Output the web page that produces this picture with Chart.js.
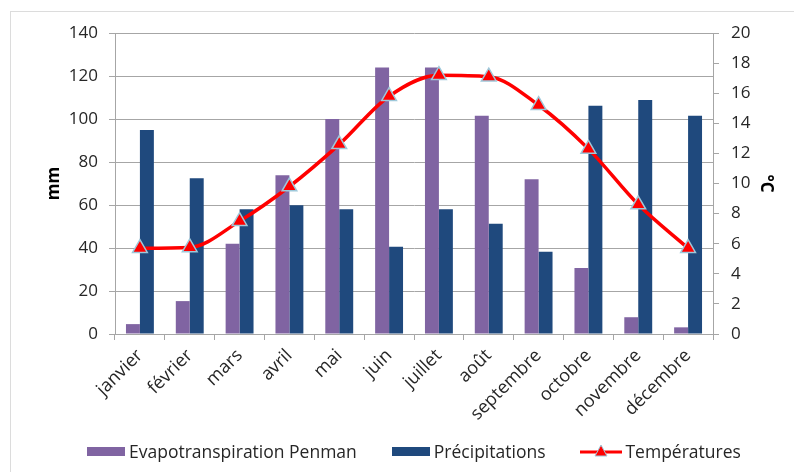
<!DOCTYPE html>
<html>
<head>
<meta charset="utf-8">
<script src="https://cdn.jsdelivr.net/npm/chart.js@4.4.0/dist/chart.umd.min.js"></script>
<style>
  body { margin: 0; background: #fff; }
  #wrap { position: relative; width: 794px; height: 472px; overflow: hidden; }
  #frame { position: absolute; left: 10px; top: 11px; width: 800px; height: 500px;
           border-left: 1px solid #dcdcdc; border-top: 1px solid #dcdcdc; }
  #myChart { position: absolute; left: 0; top: 0; }
  #legend { position: absolute; left: 87px; top: 439px; display: flex; align-items: center;
            font-family: "Open Sans", sans-serif; font-size: 17.5px; color: #262626; white-space: nowrap; }
  .item { display: flex; align-items: center; margin-right: 35px; }
  .box { width: 38px; height: 9px; margin-right: 4px; }
  .lin { width: 42px; height: 16px; margin-right: 3px; }
</style>
</head>
<body>
<div id="wrap">
  <div id="frame"></div>
  <canvas id="myChart" width="794" height="472"></canvas>
  <div id="legend"></div>
</div>
<script>
var months = ['janvier','février','mars','avril','mai','juin','juillet','août','septembre','octobre','novembre','décembre'];
var etp = [4.6, 15.3, 42, 73.8, 100, 124, 124, 101.5, 72, 30.7, 7.8, 3.1];
var precip = [94.9, 72.4, 58, 59.9, 58, 40.6, 58, 51.3, 38.3, 106.2, 108.8, 101.5];
var temps = [5.7, 5.75, 7.5, 9.8, 12.6, 15.8, 17.2, 17.1, 15.2, 12.3, 8.6, 5.7];

var purple = '#8064a2', navy = '#1f497d', red = '#ff0000', markerEdge = '#9ec8da';
var gridCol = '#a6a6a6', txt = '#262626';
var font = '"Open Sans", sans-serif';

var ctx = document.getElementById('myChart').getContext('2d');

var myChart = new Chart(ctx, {
  type: 'bar',
  data: {
    labels: months,
    datasets: [{
      type: 'line',
      label: 'Températures',
      data: temps,
      yAxisID: 'y2',
      borderColor: red,
      borderWidth: 3.5,
      cubicInterpolationMode: 'monotone',
      pointStyle: 'triangle',
      pointRadius: 8.5,
      pointBackgroundColor: red,
      pointBorderColor: markerEdge,
      pointBorderWidth: 1.5,
      order: 0
    }, {
      label: 'Evapotranspiration Penman',
      data: etp,
      yAxisID: 'y',
      backgroundColor: purple,
      categoryPercentage: 0.56,
      barPercentage: 1.0,
      order: 1
    }, {
      label: 'Précipitations',
      data: precip,
      yAxisID: 'y',
      backgroundColor: navy,
      categoryPercentage: 0.56,
      barPercentage: 1.0,
      order: 1
    }]
  },
  options: {
    responsive: false,
    animation: false,
    devicePixelRatio: 1,
    layout: { padding: { left: 40, right: 14, top: 33, bottom: 0 } },
    plugins: { legend: { display: false }, tooltip: { enabled: false } },
    scales: {
      x: {
        grid: { drawOnChartArea: false, color: gridCol, tickLength: 6 },
        border: { color: gridCol },
        ticks: { color: txt, font: { family: font, size: 18 }, minRotation: 45, maxRotation: 45, padding: 5 },
        afterFit: function(s) { s.height = 138; }
      },
      y: {
        position: 'left',
        min: 0, max: 140,
        grid: { color: gridCol, tickLength: 6 },
        border: { color: gridCol },
        ticks: { stepSize: 20, color: txt, font: { family: font, size: 17 }, padding: 11 },
        title: { display: true, text: 'mm', color: '#000', font: { family: font, size: 17, weight: 'bold' } },
        afterFit: function(s) { s.width = 75; }
      },
      y2: {
        position: 'right',
        min: 0, max: 20,
        grid: { drawOnChartArea: false, color: gridCol, tickLength: 6 },
        border: { color: gridCol },
        ticks: { stepSize: 2, color: txt, font: { family: font, size: 17 }, padding: 12 },
        title: { display: true, text: '°C', color: '#000', font: { family: font, size: 17, weight: 'bold' } },
        afterFit: function(s) { s.width = 67; }
      }
    }
  }
});

// legend in html, same order as the original
var legend = document.getElementById('legend');
[['Evapotranspiration Penman', purple, 'box'], ['Précipitations', navy, 'box'], ['Températures', red, 'line']].forEach(function(it) {
  var item = document.createElement('div');
  item.className = 'item';
  if (it[2] == 'box') {
    var b = document.createElement('div');
    b.className = 'box';
    b.style.background = it[1];
    item.appendChild(b);
  } else {
    var c = document.createElement('canvas');
    c.className = 'lin';
    c.width = 42; c.height = 16;
    var g = c.getContext('2d');
    g.strokeStyle = red; g.lineWidth = 3;
    g.beginPath(); g.moveTo(0, 9); g.lineTo(42, 9); g.stroke();
    g.fillStyle = red; g.strokeStyle = markerEdge; g.lineWidth = 1;
    g.beginPath(); g.moveTo(21, 2); g.lineTo(27, 13); g.lineTo(15, 13); g.closePath(); g.fill(); g.stroke();
    item.appendChild(c);
  }
  var t = document.createElement('span');
  t.textContent = it[0];
  item.appendChild(t);
  legend.appendChild(item);
});
</script>
</body>
</html>
